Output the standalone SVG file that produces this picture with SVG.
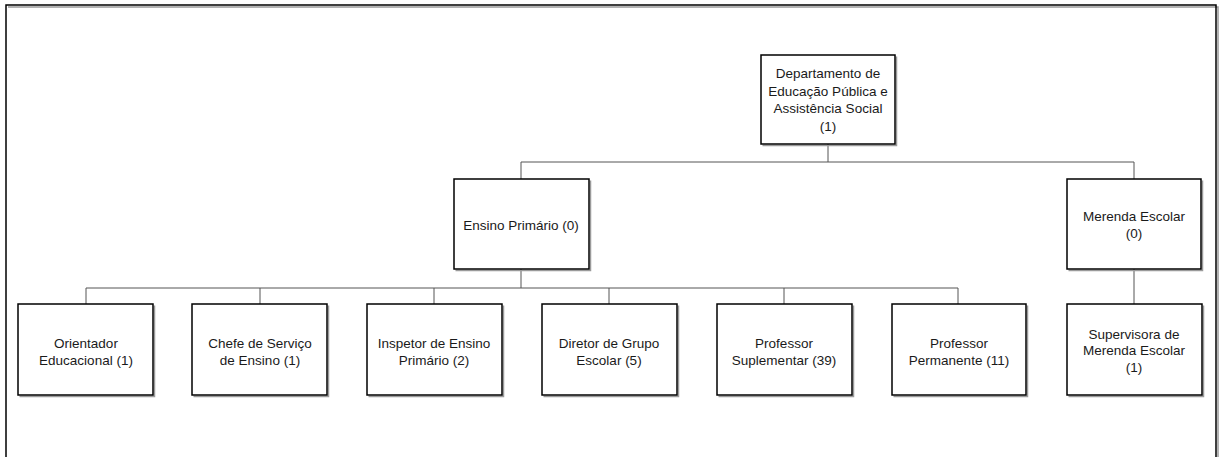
<svg xmlns="http://www.w3.org/2000/svg" width="1222" height="457" viewBox="0 0 1222 457">
  <style>
    .box { fill: #ffffff; stroke: #000000; stroke-width: 1.5; }
    .shadow { fill: none; stroke: #9a9a9a; stroke-width: 1.5; }
    .lbl { font-family: "Liberation Sans", Arial, sans-serif; font-size: 13.5px; fill: #1a1a1a; text-anchor: middle; }
    .conn { fill: none; stroke: #555555; stroke-width: 1; }
  </style>
  <rect width="1222" height="457" fill="#ffffff"/>

  <!-- outer frame -->
  <g id="frame">
    <path class="shadow" d="M8 7 H1218 V460"/>
    <rect x="6" y="5" width="1210" height="460" fill="none" stroke="#000000" stroke-width="1.5"/>
  </g>

  <!-- connectors -->
  <g id="connectors">
    <path class="conn" d="M828 144 V162 M521 162 H1134 M521 162 V179 M1134 162 V179"/>
    <path class="conn" d="M521 269 V288 M86 288 H958 M86 288 V304 M260 288 V304 M434 288 V304 M609 288 V304 M784 288 V304 M958 288 V304"/>
    <path class="conn" d="M1134 269 V304"/>
  </g>

  <g id="departamento">
    <path class="shadow" d="M762.5 145.5 H896.5 V56.5"/>
    <rect class="box" x="761" y="55" width="134" height="89"/>
    <text class="lbl" x="828" y="78">Departamento de</text>
    <text class="lbl" x="828" y="95.5">Educação Pública e</text>
    <text class="lbl" x="828" y="113">Assistência Social</text>
    <text class="lbl" x="828" y="130.5">(1)</text>
  </g>

  <g id="ensino-primario">
    <path class="shadow" d="M455.5 270.5 H590.5 V180.5"/>
    <rect class="box" x="454" y="179" width="135" height="90"/>
    <text class="lbl" x="521" y="229.5">Ensino Primário (0)</text>
  </g>

  <g id="merenda-escolar">
    <path class="shadow" d="M1068.5 270.5 H1202.5 V180.5"/>
    <rect class="box" x="1067" y="179" width="134" height="90"/>
    <text class="lbl" x="1134" y="221">Merenda Escolar</text>
    <text class="lbl" x="1134" y="238">(0)</text>
  </g>

  <g id="orientador">
    <path class="shadow" d="M19.5 396.5 H154.5 V305.5"/>
    <rect class="box" x="18" y="304" width="135" height="91"/>
    <text class="lbl" x="86" y="347.5">Orientador</text>
    <text class="lbl" x="86" y="365">Educacional (1)</text>
  </g>

  <g id="chefe-servico">
    <path class="shadow" d="M193.5 396.5 H328.5 V305.5"/>
    <rect class="box" x="192" y="304" width="135" height="91"/>
    <text class="lbl" x="260" y="347.5">Chefe de Serviço</text>
    <text class="lbl" x="260" y="365">de Ensino (1)</text>
  </g>

  <g id="inspetor">
    <path class="shadow" d="M368.5 396.5 H503.5 V305.5"/>
    <rect class="box" x="367" y="304" width="135" height="91"/>
    <text class="lbl" x="434" y="347.5">Inspetor de Ensino</text>
    <text class="lbl" x="434" y="365">Primário (2)</text>
  </g>

  <g id="diretor">
    <path class="shadow" d="M543.5 396.5 H678.5 V305.5"/>
    <rect class="box" x="542" y="304" width="135" height="91"/>
    <text class="lbl" x="609" y="347.5">Diretor de Grupo</text>
    <text class="lbl" x="609" y="365">Escolar (5)</text>
  </g>

  <g id="professor-suplementar">
    <path class="shadow" d="M718.5 396.5 H853.5 V305.5"/>
    <rect class="box" x="717" y="304" width="135" height="91"/>
    <text class="lbl" x="784" y="347.5">Professor</text>
    <text class="lbl" x="784" y="365">Suplementar (39)</text>
  </g>

  <g id="professor-permanente">
    <path class="shadow" d="M893.5 396.5 H1027.5 V305.5"/>
    <rect class="box" x="892" y="304" width="134" height="91"/>
    <text class="lbl" x="959" y="347.5">Professor</text>
    <text class="lbl" x="959" y="365">Permanente (11)</text>
  </g>

  <g id="supervisora">
    <path class="shadow" d="M1068.5 396.5 H1203.5 V305.5"/>
    <rect class="box" x="1067" y="304" width="135" height="91"/>
    <text class="lbl" x="1134" y="338.5">Supervisora de</text>
    <text class="lbl" x="1134" y="355">Merenda Escolar</text>
    <text class="lbl" x="1134" y="371.5">(1)</text>
  </g>
</svg>
